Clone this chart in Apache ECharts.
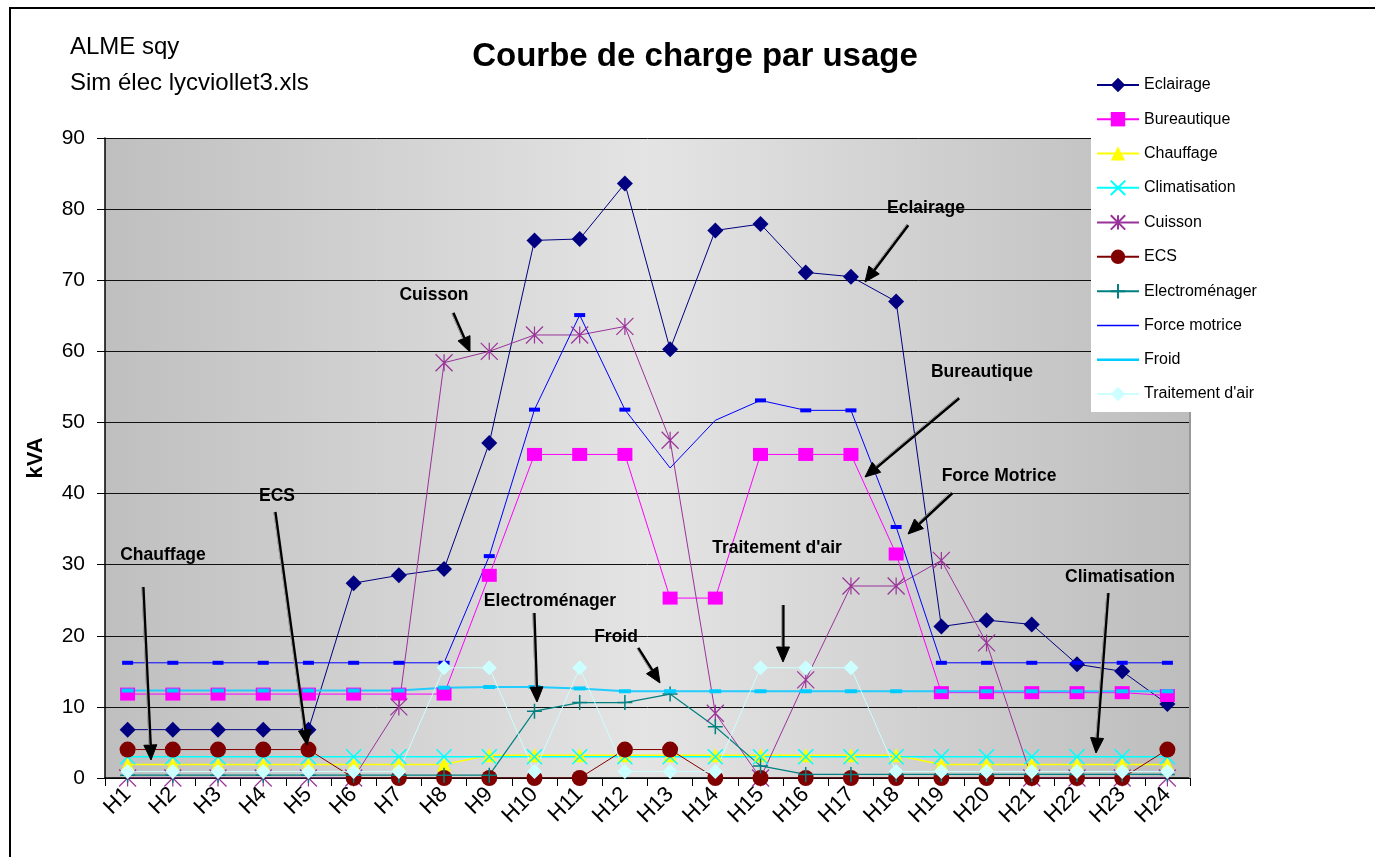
<!DOCTYPE html>
<html>
<head>
<meta charset="utf-8">
<script src="https://cdn.jsdelivr.net/npm/echarts@6/dist/echarts.min.js"></script>
<style>html,body{margin:0;padding:0;background:#fff}#c{width:1375px;height:857px}</style>
</head>
<body>
<div id="c"></div>
<script>
const categories = ['H1','H2','H3','H4','H5','H6','H7','H8','H9','H10','H11','H12','H13','H14','H15','H16','H17','H18','H19','H20','H21','H22','H23','H24'];
const eclairage      = [6.8,6.8,6.8,6.8,6.8,27.4,28.5,29.4,47.1,75.6,75.8,83.6,60.3,77.0,77.9,71.1,70.5,67.0,21.3,22.2,21.6,16.0,15.0,10.4];
const bureautique    = [11.8,11.8,11.8,11.8,11.8,11.8,11.8,11.8,28.5,45.5,45.5,45.5,25.3,25.3,45.5,45.5,45.5,31.5,12.0,12.0,12.0,12.0,12.0,11.6];
const chauffage      = [1.9,1.9,1.9,1.9,1.9,1.9,1.9,1.9,3.2,3.2,3.2,3.2,3.2,3.2,3.2,3.2,3.2,3.2,1.9,1.9,1.9,1.9,1.9,1.9];
const climatisation  = [3.0,3.0,3.0,3.0,3.0,3.0,3.0,3.0,3.0,3.0,3.0,3.0,3.0,3.0,3.0,3.0,3.0,3.0,3.0,3.0,3.0,3.0,3.0,3.0];
const cuisson        = [0,0,0,0,0,0,10.0,58.4,60.0,62.3,62.3,63.5,47.5,9.1,0,13.8,27.0,27.0,30.6,19.0,0,0,0,0];
const ecs            = [4.0,4.0,4.0,4.0,4.0,0,0,0,0,0,0,4.0,4.0,0,0,0,0,0,0,0,0,0,0,4.0];
const electromenager = [0.4,0.4,0.4,0.4,0.4,0.4,0.4,0.4,0.4,9.4,10.6,10.6,11.8,7.2,1.7,0.5,0.5,0.5,0.5,0.5,0.5,0.5,0.5,0.5];
const forceMotrice   = [16.2,16.2,16.2,16.2,16.2,16.2,16.2,16.2,31.2,51.8,65.1,51.8,43.6,50.3,53.1,51.7,51.7,35.3,16.2,16.2,16.2,16.2,16.2,16.2];
const froid          = [12.3,12.3,12.3,12.3,12.3,12.3,12.3,12.7,12.8,12.8,12.6,12.2,12.2,12.2,12.2,12.2,12.2,12.2,12.2,12.2,12.2,12.2,12.2,12.2];
const traitementAir  = [0.9,0.9,0.9,0.9,0.9,0.9,0.9,15.5,15.5,0.9,15.5,0.9,0.9,0.9,15.5,15.5,15.5,0.9,0.9,0.9,0.9,0.9,0.9,0.9];
const yTicks = [0,10,20,30,40,50,60,70,80,90];
// points of Force motrice drawn without a marker
const fmNoMarker = ['H13','H14'];

const FONT = '"Liberation Sans", Arial, sans-serif';
const CROSS = 'path://M0,0L10,10M10,0L0,10';
const STAR = 'path://M0,0L10,10M10,0L0,10M5,0L5,10';
const PLUS = 'path://M5,0L5,10M0,5L10,5';
const THIN_LINE = 'path://M0,0L42,0L42,1.5L0,1.5Z';
const THICK_LINE = 'path://M0,0L42,0L42,2.5L0,2.5Z';

function lineSeries(name, data, color, symbol, size, extra) {
  return Object.assign({
    name, type: 'line', data, symbol, symbolSize: size,
    showAllSymbol: true, animation: false,
    lineStyle: { color, width: 1 },
    itemStyle: { color, borderColor: color, borderWidth: 0 }
  }, extra || {});
}

function arrow(x1, y1, x2, y2) {
  const dx = x2 - x1, dy = y2 - y1, L = Math.hypot(dx, dy), ux = dx / L, uy = dy / L;
  const hl = 15, hw = 6.5;
  const bx = x2 - ux * hl, by = y2 - uy * hl;
  return [
    { type: 'line', z: 100, shape: { x1, y1, x2: bx, y2: by }, style: { stroke: '#000', lineWidth: 3.2 } },
    { type: 'line', z: 101, shape: { x1: x1 - uy * 1.2, y1: y1 + ux * 1.2, x2: bx - uy * 1.2, y2: by + ux * 1.2 }, style: { stroke: '#fff', lineWidth: 0.8, opacity: 0.8 } },
    { type: 'polygon', z: 100, shape: { points: [[x2, y2], [bx - uy * hw, by + ux * hw], [bx + uy * hw, by - ux * hw]] }, style: { fill: '#000', stroke: '#000', lineWidth: 1 } }
  ];
}
function label(text, x, y) {
  return { type: 'text', z: 100, style: { text, x, y, font: 'bold 17.5px ' + FONT, fill: '#000', textAlign: 'center', textVerticalAlign: 'middle' } };
}

const annotations = [
  label('Chauffage', 163, 555), ...arrow(143, 587, 151, 760),
  label('ECS', 277, 496), ...arrow(275, 512, 307, 745),
  label('Cuisson', 434, 295), ...arrow(453, 313, 470, 352),
  label('Eclairage', 926, 208), ...arrow(908, 225, 865, 282),
  label('Bureautique', 982, 372), ...arrow(959, 398, 865, 477),
  label('Force Motrice', 999, 476), ...arrow(952, 493, 908, 534),
  label("Traitement d'air", 777, 548), ...arrow(783, 605, 783, 662),
  label('Electroménager', 550, 601), ...arrow(534, 613, 537, 702),
  label('Froid', 616, 637), ...arrow(638, 648, 660, 683),
  label('Climatisation', 1120, 577), ...arrow(1108, 593, 1096, 753)
];

const seriesNames = ['Eclairage','Bureautique','Chauffage','Climatisation','Cuisson','ECS','Electroménager','Force motrice','Froid',"Traitement d'air"];

const chart = echarts.init(document.getElementById('c'), null, { renderer: 'canvas' });
chart.setOption({
  backgroundColor: '#fff',
  animation: false,
  textStyle: { fontFamily: FONT },
  grid: {
    left: 105, right: 185, top: 138, bottom: 79, show: true, borderWidth: 0,
    backgroundColor: new echarts.graphic.LinearGradient(0, 0, 1, 0, [
      { offset: 0, color: '#bfbfbf' }, { offset: 0.5, color: '#e4e4e4' }, { offset: 1, color: '#bdbdbd' }
    ])
  },
  legend: {
    orient: 'vertical', left: 1091, top: 67,
    padding: [10, 22, 10, 5],
    backgroundColor: '#fff',
    itemWidth: 42, itemHeight: 18, itemGap: 18.2,
    data: seriesNames.map(n => n === 'Force motrice' ? { name: n, icon: THIN_LINE } : n === 'Froid' ? { name: n, icon: THICK_LINE } : { name: n }),
    textStyle: { fontSize: 16, color: '#000', fontFamily: FONT },
    z: 10
  },
  xAxis: {
    type: 'category', data: categories, boundaryGap: true,
    axisLine: { lineStyle: { color: '#000', width: 1.5 } },
    axisTick: { show: true, length: 8, lineStyle: { color: '#000' } },
    axisLabel: { rotate: 45, fontSize: 22, color: '#000', margin: 13, fontFamily: FONT, interval: 0 },
    splitLine: { show: false }
  },
  yAxis: {
    type: 'value', min: yTicks[0], max: yTicks[yTicks.length - 1], interval: 10,
    name: 'kVA', nameLocation: 'middle', nameGap: 58, nameRotate: 90,
    nameTextStyle: { fontSize: 22, fontWeight: 'bold', color: '#000', fontFamily: FONT },
    axisLine: { show: true, lineStyle: { color: '#000', width: 1.5 } },
    axisTick: { show: true, inside: false, length: 8, lineStyle: { color: '#000' } },
    axisLabel: { fontSize: 21, color: '#000', margin: 20, fontFamily: FONT },
    splitLine: { show: true, lineStyle: { color: '#111', width: 1 } }
  },
  series: [
    lineSeries('Eclairage', eclairage, '#000080', 'diamond', 16),
    lineSeries('Bureautique', bureautique, '#FF00FF', 'rect', [15, 13]),
    lineSeries('Chauffage', chauffage, '#FFFF00', 'triangle', 14, { lineStyle: { color: '#FFFF00', width: 1.5 } }),
    lineSeries('Climatisation', climatisation, '#00FFFF', CROSS, 15, { itemStyle: { color: '#00FFFF', borderColor: '#00FFFF', borderWidth: 1.5 }, lineStyle: { color: '#00FFFF', width: 1.5 } }),
    lineSeries('Cuisson', cuisson, '#993399', STAR, 17, { itemStyle: { color: '#993399', borderColor: '#993399', borderWidth: 1.2 } }),
    lineSeries('ECS', ecs, '#800000', 'circle', 16),
    lineSeries('Electroménager', electromenager, '#008080', PLUS, 15, { itemStyle: { color: '#008080', borderColor: '#008080', borderWidth: 1.5 }, lineStyle: { color: '#008080', width: 1.2 } }),
    lineSeries('Force motrice', forceMotrice.map((v, i) => fmNoMarker.includes(categories[i]) ? { value: v, symbol: 'none' } : { value: v, symbol: 'rect' }), '#0000FF', 'none', [11, 4]),
    lineSeries('Froid', froid, '#00CCFF', 'rect', [12, 4], { lineStyle: { color: '#22CCFF', width: 2 } }),
    lineSeries("Traitement d'air", traitementAir, '#CCFFFF', 'diamond', 15)
  ],
  graphic: [
    { type: 'rect', z: 0, silent: true, shape: { x: 10, y: 8, width: 1400, height: 900 }, style: { fill: 'none', stroke: '#000', lineWidth: 2 } },
    { type: 'line', z: 5, shape: { x1: 1190, y1: 138, x2: 1190, y2: 778 }, style: { stroke: '#999', lineWidth: 2 } },
    { type: 'text', z: 100, style: { text: 'Courbe de charge par usage', x: 695, y: 57, font: 'bold 33px ' + FONT, fill: '#000', textAlign: 'center', textVerticalAlign: 'middle' } },
    { type: 'text', z: 100, style: { text: 'ALME sqy', x: 70, y: 47, font: '24px ' + FONT, fill: '#000', textAlign: 'left', textVerticalAlign: 'middle' } },
    { type: 'text', z: 100, style: { text: 'Sim élec lycviollet3.xls', x: 70, y: 83, font: '24px ' + FONT, fill: '#000', textAlign: 'left', textVerticalAlign: 'middle' } },
    ...annotations
  ]
});
</script>
</body>
</html>
